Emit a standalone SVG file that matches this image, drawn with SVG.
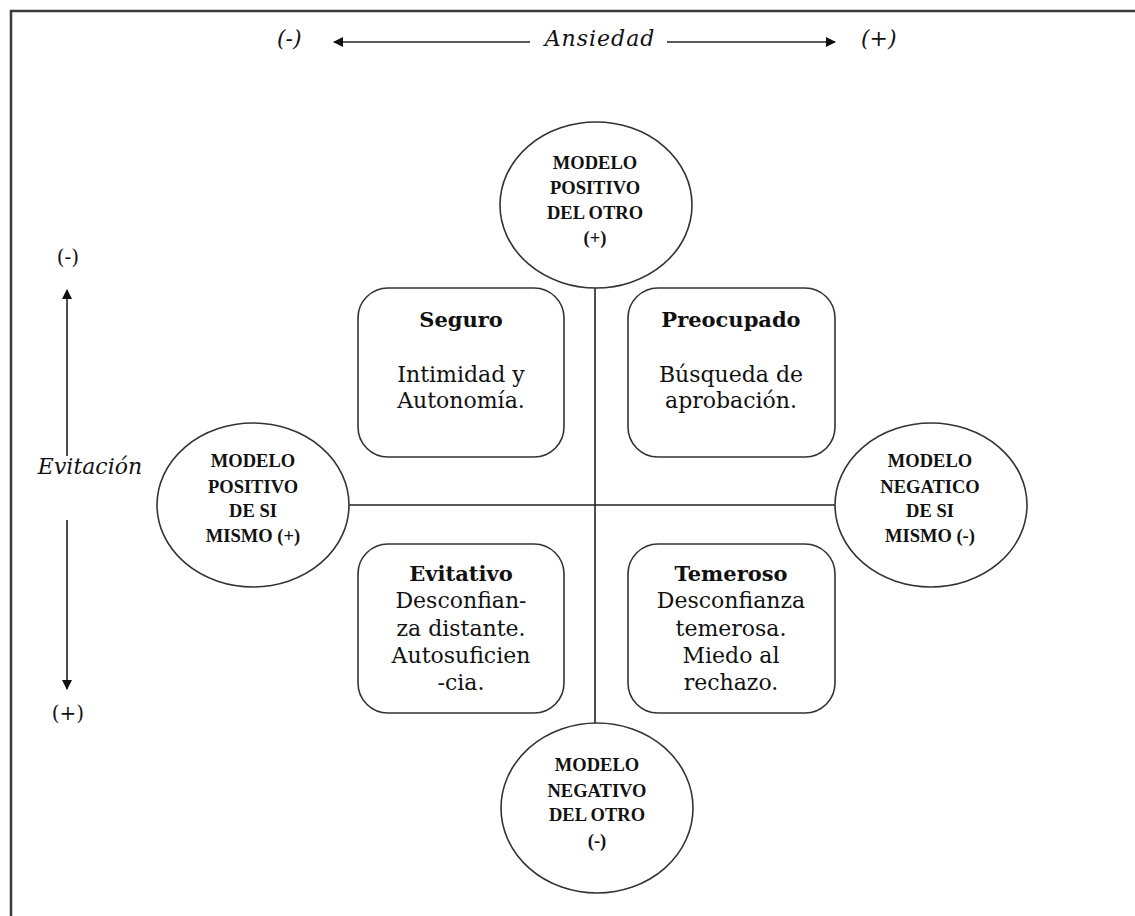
<svg xmlns="http://www.w3.org/2000/svg" width="1135" height="916" viewBox="0 0 1135 916">
<style>
.frame{fill:none;stroke:#3a3a3a;stroke-width:2.5}
.ell{fill:#fff;stroke:#333;stroke-width:1.6}
.box{fill:#fff;stroke:#333;stroke-width:1.6}
.ln{fill:none;stroke:#222;stroke-width:1.6}
.ct{font-family:"Liberation Serif",serif;font-weight:bold;font-size:18.5px;fill:#111;text-anchor:middle}
.bt{font-family:"DejaVu Serif",serif;font-weight:bold;font-size:21px;fill:#111;text-anchor:middle}
.bb{font-family:"DejaVu Serif",serif;font-size:22px;fill:#111;text-anchor:middle}
.ax{font-family:"DejaVu Serif",serif;font-style:italic;font-size:22px;fill:#111}
.axu{font-family:"DejaVu Serif",serif;font-size:20px;fill:#111;text-anchor:middle}
</style>
<defs>
<marker id="ah" viewBox="0 0 10 10" refX="9" refY="5" markerWidth="7" markerHeight="7" orient="auto-start-reverse" markerUnits="userSpaceOnUse">
<path d="M0,0 L10,5 L0,10 z" fill="#111"/>
</marker>
<marker id="ah2" viewBox="0 0 10 10" refX="9" refY="5" markerWidth="10" markerHeight="10" orient="auto-start-reverse" markerUnits="userSpaceOnUse">
<path d="M0,0 L10,5 L0,10 z" fill="#111"/>
</marker>
</defs>
<rect width="1135" height="916" fill="#fff"/>
<path class="frame" d="M11,916 V11 H1135"/>

<g id="axis-ansiedad">
<text class="ax" x="277" y="46">(-)</text>
<text class="ax" x="600" y="46" text-anchor="middle" letter-spacing="1">Ansiedad</text>
<text class="ax" x="861" y="46">(+)</text>
<line class="ln" x1="530" y1="42" x2="334" y2="42" marker-end="url(#ah2)"/>
<line class="ln" x1="667" y1="42" x2="835" y2="42" marker-end="url(#ah2)"/>
</g>

<g id="axis-evitacion">
<text class="axu" x="68" y="264">(-)</text>
<text class="ax" x="90" y="474" text-anchor="middle">Evitación</text>
<text class="axu" x="68" y="720">(+)</text>
<line class="ln" x1="67" y1="456" x2="67" y2="290" marker-end="url(#ah2)"/>
<line class="ln" x1="67" y1="520" x2="67" y2="689" marker-end="url(#ah2)"/>
</g>

<g id="connectors">
<line class="ln" x1="595" y1="288" x2="595" y2="723"/>
<line class="ln" x1="349" y1="505" x2="835" y2="505"/>
</g>

<g id="modelo-positivo-otro">
<ellipse class="ell" cx="596" cy="205" rx="96" ry="83"/>
<text class="ct" x="595" y="169">MODELO</text>
<text class="ct" x="595" y="194">POSITIVO</text>
<text class="ct" x="595" y="219">DEL OTRO</text>
<text class="ct" x="595" y="244">(+)</text>
</g>

<g id="modelo-negativo-otro">
<ellipse class="ell" cx="597" cy="808" rx="96" ry="85"/>
<text class="ct" x="597" y="771">MODELO</text>
<text class="ct" x="597" y="797">NEGATIVO</text>
<text class="ct" x="597" y="821">DEL OTRO</text>
<text class="ct" x="597" y="847">(-)</text>
</g>

<g id="modelo-positivo-si-mismo">
<ellipse class="ell" cx="253" cy="505" rx="96" ry="82"/>
<text class="ct" x="253" y="467">MODELO</text>
<text class="ct" x="253" y="493">POSITIVO</text>
<text class="ct" x="253" y="517">DE SI</text>
<text class="ct" x="253" y="542">MISMO (+)</text>
</g>

<g id="modelo-negatico-si-mismo">
<ellipse class="ell" cx="931" cy="505" rx="96" ry="82"/>
<text class="ct" x="930" y="467">MODELO</text>
<text class="ct" x="930" y="493">NEGATICO</text>
<text class="ct" x="930" y="517">DE SI</text>
<text class="ct" x="930" y="542">MISMO (-)</text>
</g>

<g id="seguro">
<rect class="box" x="358" y="288" width="206" height="169" rx="30"/>
<text class="bt" x="461" y="327">Seguro</text>
<text class="bb" x="461" y="382">Intimidad y</text>
<text class="bb" x="461" y="408">Autonomía.</text>
</g>

<g id="preocupado">
<rect class="box" x="628" y="288" width="207" height="169" rx="30"/>
<text class="bt" x="731" y="327">Preocupado</text>
<text class="bb" x="731" y="382">Búsqueda de</text>
<text class="bb" x="731" y="408">aprobación.</text>
</g>

<g id="evitativo">
<rect class="box" x="358" y="544" width="206" height="169" rx="30"/>
<text class="bt" x="461" y="581">Evitativo</text>
<text class="bb" x="461" y="608">Desconfian-</text>
<text class="bb" x="461" y="636">za distante.</text>
<text class="bb" x="461" y="663">Autosuficien</text>
<text class="bb" x="461" y="690">-cia.</text>
</g>

<g id="temeroso">
<rect class="box" x="628" y="544" width="207" height="169" rx="30"/>
<text class="bt" x="731" y="581">Temeroso</text>
<text class="bb" x="731" y="608">Desconfianza</text>
<text class="bb" x="731" y="636">temerosa.</text>
<text class="bb" x="731" y="663">Miedo al</text>
<text class="bb" x="731" y="690">rechazo.</text>
</g>
</svg>
